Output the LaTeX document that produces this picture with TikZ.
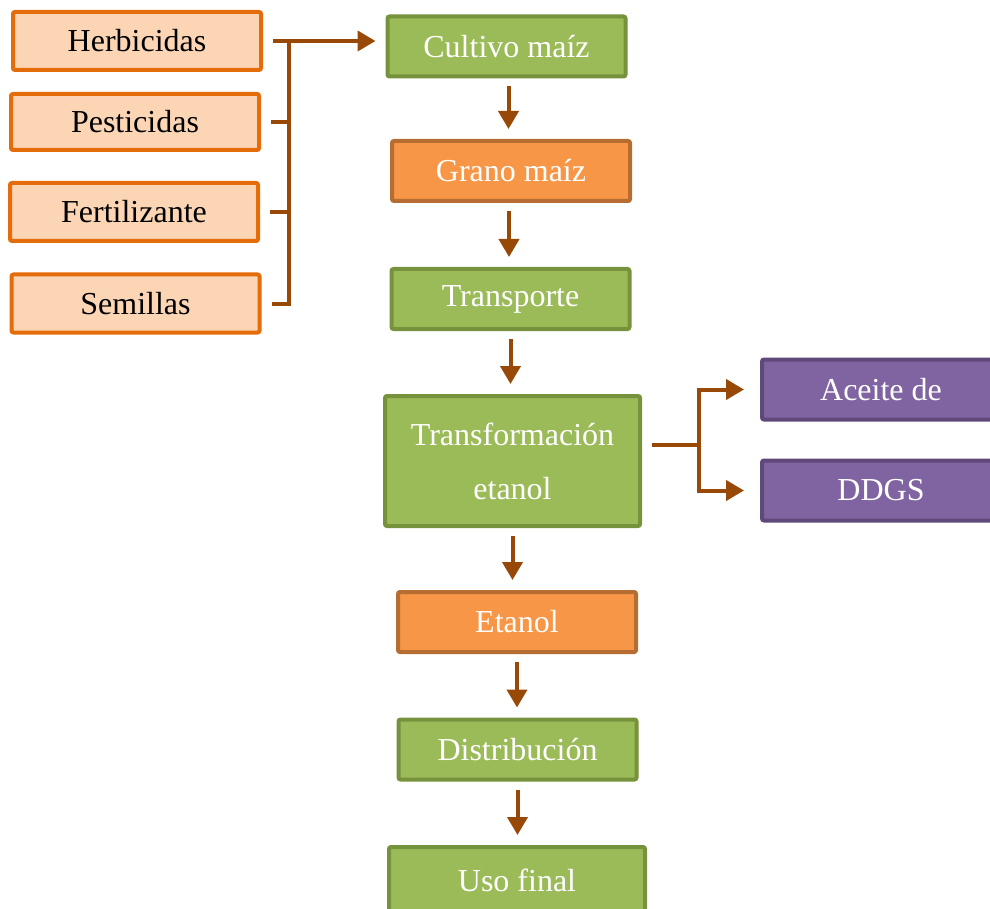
\documentclass[tikz,border=0pt]{standalone}
\usepackage{fontspec}
\setmainfont{Liberation Serif}
\usetikzlibrary{arrows.meta}
\definecolor{inborder}{HTML}{E46C0A}
\definecolor{infill}{HTML}{FCD5B5}
\definecolor{grnfill}{HTML}{9BBB59}
\definecolor{grnborder}{HTML}{76923C}
\definecolor{orgfill}{HTML}{F79646}
\definecolor{orgborder}{HTML}{B66D31}
\definecolor{purfill}{HTML}{8064A2}
\definecolor{purborder}{HTML}{5F497A}
\definecolor{flowbrown}{HTML}{984807}
\begin{document}
\begin{tikzpicture}[x=0.5pt, y=-0.5pt,
    box/.style={rectangle, rounded corners=1pt, line width=2pt, minimum width=119pt,
      minimum height=30pt, inner sep=0pt, align=center, font=\fontsize{16}{27}\selectfont},
    input/.style={box, draw=inborder, fill=infill, text=black, minimum width=124pt, minimum height=29pt},
    stage/.style={box, draw=grnborder, fill=grnfill, text=white},
    product/.style={box, draw=orgborder, fill=orgfill, text=white},
    byprod/.style={box, draw=purborder, fill=purfill, text=white},
    link/.style={draw=flowbrown, line width=2pt},
    flow/.style={link, -{Triangle[width=10pt,length=9pt]}, shorten <=4pt, shorten >=5pt}]
    \clip (0,0) rectangle (990,909);
    % inputs
    \node[input] (herb) at (137,41) {Herbicidas};
    \node[input, minimum height=28pt] (pest) at (135,122) {Pesticidas};
    \node[input] (fert) at (134,212) {Fertilizante};
    \node[input] (sem) at (135.5,303.5) {Semillas};
    % main chain
    \node[stage] (cult) at (506.5,46.5) {Cultivo maíz};
    \node[product] (gran) at (511,171) {Grano maíz};
    \node[stage] (transp) at (510.5,299) {Transporte};
    \node[stage, minimum width=127.5pt, minimum height=65pt] (tfm) at (512.5,461) {Transformación\\etanol};
    \node[product] (etan) at (517,622) {Etanol};
    \node[stage] (dist) at (517.5,749.5) {Distribución};
    \node[stage, minimum width=128pt, minimum height=33pt] (uso) at (517,880) {Uso final};
    % by-products
    \node[byprod] (aceite) at (881,389.5) {Aceite de};
    \node[byprod] (ddgs) at (881,490.5) {DDGS};
    % bracket of inputs
    \coordinate (bus) at (289,42);
    \draw[flow, shorten <=5pt] (herb.east) -- (herb.east -| cult.west);
    \draw[link, shorten <=5pt] (pest.east) -- (pest.east -| bus);
    \draw[link, shorten <=5pt] (fert.east) -- (fert.east -| bus);
    \draw[link, shorten <=5pt] (sem.east) -| (bus);
    % chain arrows
    \draw[flow] ([xshift=1pt]cult.south) -- ([xshift=1pt]cult.south |- gran.north);
    \draw[flow] ([xshift=-1pt]gran.south) -- ([xshift=-1pt]gran.south |- transp.north);
    \draw[flow] (transp.south) -- (transp.south |- tfm.north);
    \draw[flow] (tfm.south) -- (tfm.south |- etan.north);
    \draw[flow] (etan.south) -- (etan.south |- dist.north);
    \draw[flow] (dist.south) -- (dist.south |- uso.north);
    % split to by-products
    \coordinate (split) at (699,445);
    \draw[link, shorten <=5pt] ([yshift=8pt]tfm.east) -- (split);
    \draw[flow, shorten <=0pt, shorten >=8pt] (split) |- (aceite.west);
    \draw[flow, shorten <=0pt, shorten >=8pt] (split) |- (ddgs.west);
\end{tikzpicture}
\end{document}
